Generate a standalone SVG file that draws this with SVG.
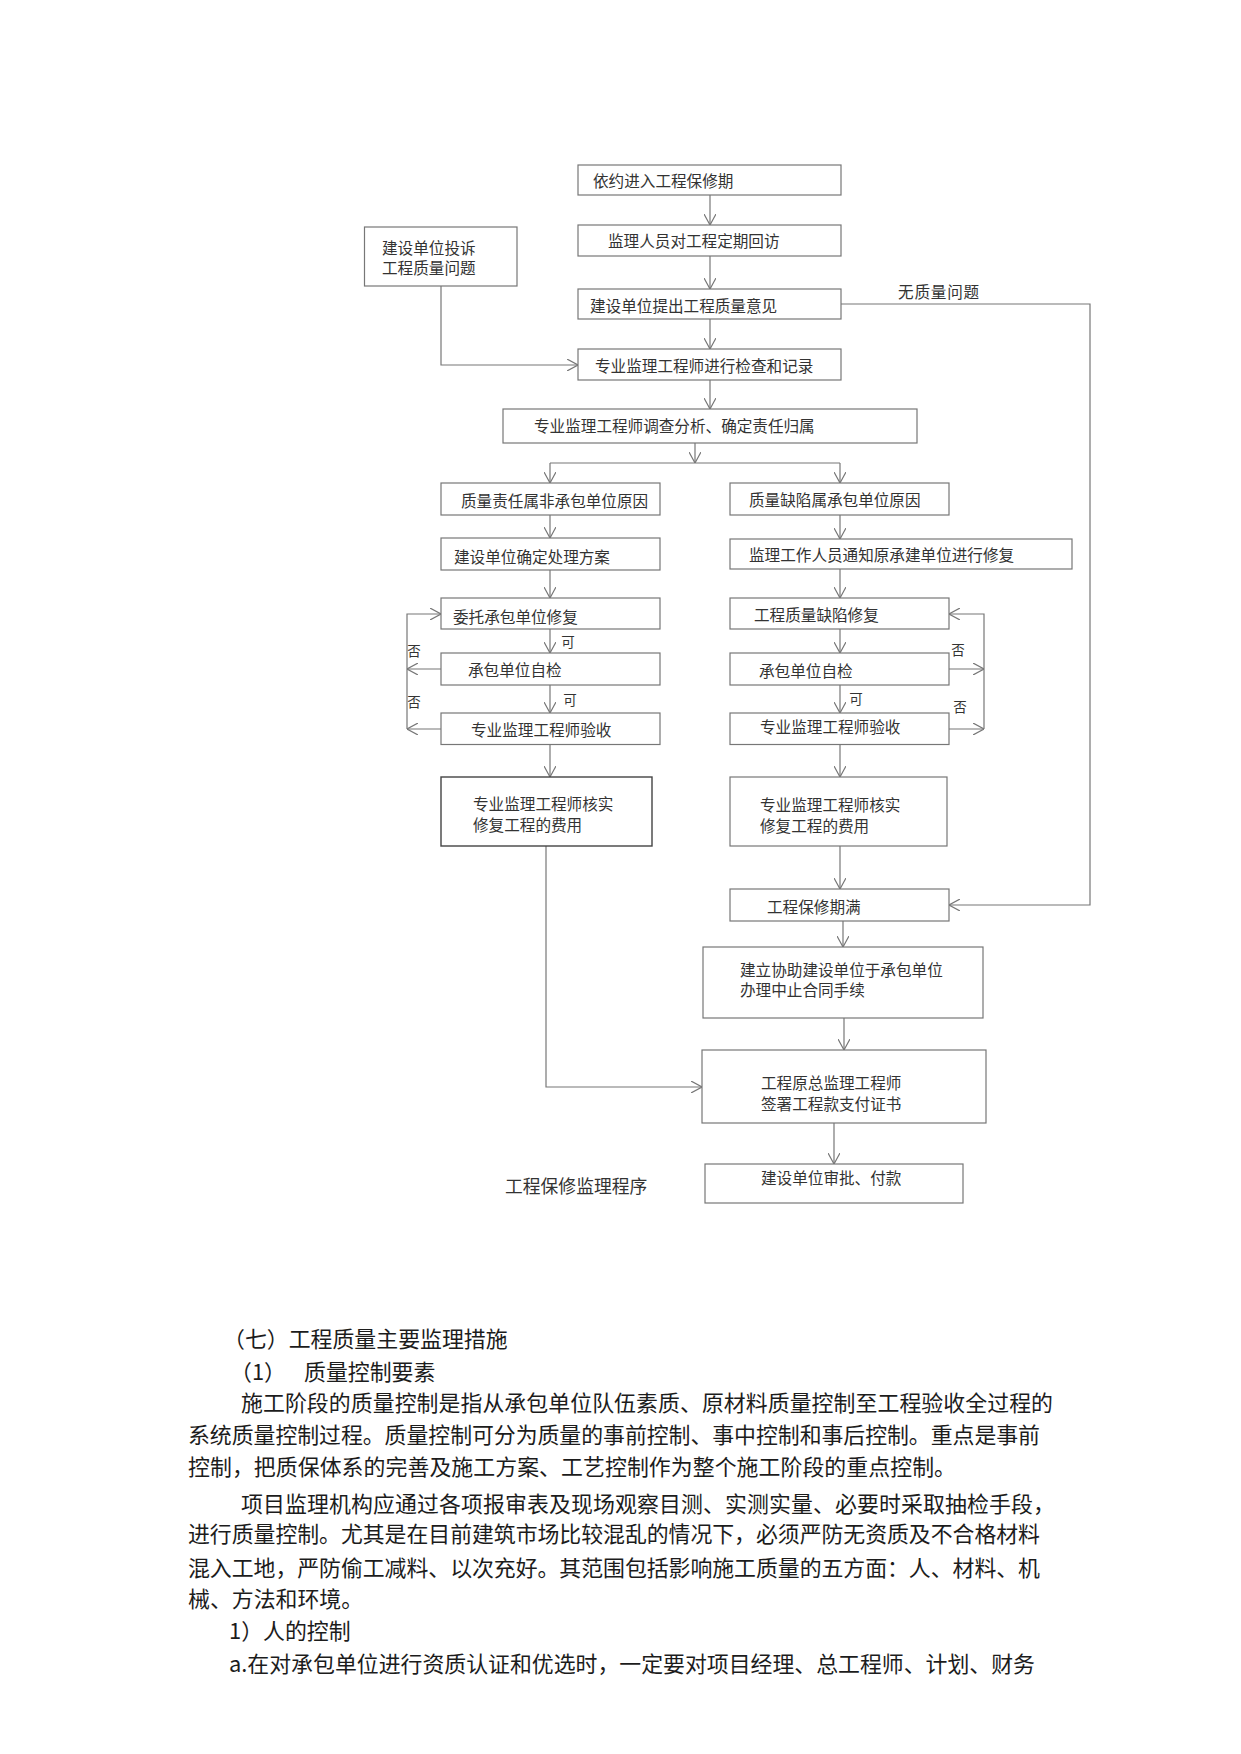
<svg xmlns="http://www.w3.org/2000/svg" width="1241" height="1754" viewBox="0 0 1241 1754">
<style>
.box{fill:#fff;stroke:#777;stroke-width:1.2}
.dark{stroke:#444;stroke-width:1.4}
.t{font-family:"Noto Sans CJK SC","Noto Sans",sans-serif;font-size:15.6px;fill:#333;dominant-baseline:central}
.s{font-family:"Noto Sans CJK SC","Noto Sans",sans-serif;font-size:13.5px;fill:#333;dominant-baseline:central}
.p{font-family:"Noto Sans CJK SC","Liberation Serif",sans-serif;font-size:21.9px;fill:#1c1c1c;dominant-baseline:central}
.c{fill:none;stroke:#777;stroke-width:1.2}
.a{marker-end:url(#arr)}
</style>
<defs>
<marker id="arr" viewBox="0 0 11 12" refX="11" refY="6" markerWidth="11" markerHeight="12" markerUnits="userSpaceOnUse" orient="auto">
<path d="M0,0 L11,6 L0,12" fill="none" stroke="#777" stroke-width="1.2"/>
</marker>
</defs>
<rect width="1241" height="1754" fill="#fff"/>

<g id="connectors">
<path class="c a" d="M710,195 V225"/>
<path class="c a" d="M710,256 V289"/>
<path class="c a" d="M710,319 V349"/>
<path class="c a" d="M710,380 V409"/>
<path class="c a" d="M441,286 V365 H578"/>
<path class="c a" d="M841,304 H1090 V905 H949"/>
<path class="c a" d="M695,443 V463"/>
<path class="c" d="M550,463 H840"/>
<path class="c a" d="M550,463 V483"/>
<path class="c a" d="M840,463 V483"/>
<path class="c a" d="M550,515 V538"/>
<path class="c a" d="M550,570 V598"/>
<path class="c a" d="M550,629 V653"/>
<path class="c a" d="M550,685 V713"/>
<path class="c a" d="M550,745 V777"/>
<path class="c a" d="M441,669 H407"/>
<path class="c a" d="M441,729 H407"/>
<path class="c a" d="M407,729 V614 H441"/>
<path class="c a" d="M546,846 V1087 H702"/>
<path class="c a" d="M840,515 V539"/>
<path class="c a" d="M840,569 V598"/>
<path class="c a" d="M840,629 V653"/>
<path class="c a" d="M840,685 V713"/>
<path class="c a" d="M840,745 V777"/>
<path class="c a" d="M949,669 H984"/>
<path class="c a" d="M949,729 H984"/>
<path class="c a" d="M984,669 V614 H949"/>
<path class="c" d="M984,669 V729"/>
<path class="c a" d="M840,846 V889"/>
<path class="c a" d="M843,921 V947"/>
<path class="c a" d="M844,1018 V1050"/>
<path class="c a" d="M834,1123 V1164"/>
<text class="t" x="898" y="291" style="letter-spacing:0.8px">无质量问题</text>
<text class="s" x="568" y="641" text-anchor="middle">可</text>
<text class="s" x="570" y="699" text-anchor="middle">可</text>
<text class="s" x="414" y="650" text-anchor="middle">否</text>
<text class="s" x="414" y="701" text-anchor="middle">否</text>
<text class="s" x="856" y="698" text-anchor="middle">可</text>
<text class="s" x="958" y="649" text-anchor="middle">否</text>
<text class="s" x="960" y="706" text-anchor="middle">否</text>
</g>

<g id="n1"><rect class="box" x="578" y="165" width="263" height="30"/><text class="t" x="593" y="180">依约进入工程保修期</text></g>
<g id="n2"><rect class="box" x="578" y="225" width="263" height="31"/><text class="t" x="608" y="240">监理人员对工程定期回访</text></g>
<g id="n3"><rect class="box" x="578" y="289" width="263" height="30"/><text class="t" x="590" y="305">建设单位提出工程质量意见</text></g>
<g id="n4"><rect class="box" x="578" y="349" width="263" height="31"/><text class="t" x="595" y="365">专业监理工程师进行检查和记录</text></g>
<g id="n5"><rect class="box" x="503" y="409" width="414" height="34"/><text class="t" x="534" y="425">专业监理工程师调查分析、确定责任归属</text></g>
<g id="complaint"><rect class="box" x="364.5" y="227" width="152.5" height="59"/><text class="t" x="382" y="246.5">建设单位投诉</text><text class="t" x="382" y="266.5">工程质量问题</text></g>

<g id="l1"><rect class="box" x="441" y="483" width="219" height="32"/><text class="t" x="461" y="500">质量责任属非承包单位原因</text></g>
<g id="l2"><rect class="box" x="441" y="538" width="219" height="32"/><text class="t" x="454" y="556">建设单位确定处理方案</text></g>
<g id="l3"><rect class="box" x="441" y="598" width="219" height="31"/><text class="t" x="453" y="616">委托承包单位修复</text></g>
<g id="l4"><rect class="box" x="441" y="653" width="219" height="32"/><text class="t" x="468" y="669">承包单位自检</text></g>
<g id="l5"><rect class="box" x="441" y="713" width="219" height="31.5"/><text class="t" x="471" y="729">专业监理工程师验收</text></g>
<g id="l6"><rect class="box dark" x="441" y="777" width="211" height="69"/><text class="t" x="473" y="803">专业监理工程师核实</text><text class="t" x="473" y="824">修复工程的费用</text></g>

<g id="r1"><rect class="box" x="730" y="483" width="219" height="32"/><text class="t" x="749" y="499">质量缺陷属承包单位原因</text></g>
<g id="r2"><rect class="box" x="730" y="539" width="342" height="30"/><text class="t" x="749" y="554">监理工作人员通知原承建单位进行修复</text></g>
<g id="r3"><rect class="box" x="730" y="598" width="219" height="31"/><text class="t" x="754" y="614">工程质量缺陷修复</text></g>
<g id="r4"><rect class="box" x="730" y="653" width="219" height="32"/><text class="t" x="759" y="670">承包单位自检</text></g>
<g id="r5"><rect class="box" x="730" y="713" width="219" height="31.5"/><text class="t" x="760" y="726">专业监理工程师验收</text></g>
<g id="r6"><rect class="box" x="730" y="777" width="217" height="69"/><text class="t" x="760" y="804">专业监理工程师核实</text><text class="t" x="760" y="825">修复工程的费用</text></g>
<g id="r7"><rect class="box" x="730" y="889" width="219" height="32"/><text class="t" x="767" y="906">工程保修期满</text></g>
<g id="e1"><rect class="box" x="703" y="947" width="280" height="71"/><text class="t" x="740" y="969">建立协助建设单位于承包单位</text><text class="t" x="740" y="989">办理中止合同手续</text></g>
<g id="e2"><rect class="box" x="702" y="1050" width="284" height="73"/><text class="t" x="761" y="1082">工程原总监理工程师</text><text class="t" x="761" y="1103">签署工程款支付证书</text></g>
<g id="e3"><rect class="box" x="705" y="1164" width="258" height="39"/><text class="t" x="761" y="1177">建设单位审批、付款</text></g>
<text class="t" x="505" y="1185" style="font-size:17.8px">工程保修监理程序</text>

<g id="body">
<text class="p" x="223" y="1337">（七）工程质量主要监理措施</text>
<text class="p" x="230" y="1370">（1）</text>
<text class="p" x="304" y="1370">质量控制要素</text>
<text class="p" x="241" y="1401" textLength="812" lengthAdjust="spacing">施工阶段的质量控制是指从承包单位队伍素质、原材料质量控制至工程验收全过程的</text>
<text class="p" x="188" y="1433" textLength="852" lengthAdjust="spacing">系统质量控制过程。质量控制可分为质量的事前控制、事中控制和事后控制。重点是事前</text>
<text class="p" x="188" y="1465" textLength="768" lengthAdjust="spacing">控制，把质保体系的完善及施工方案、工艺控制作为整个施工阶段的重点控制。</text>
<text class="p" x="241" y="1502" textLength="814" lengthAdjust="spacing">项目监理机构应通过各项报审表及现场观察目测、实测实量、必要时采取抽检手段，</text>
<text class="p" x="188" y="1532" textLength="852" lengthAdjust="spacing">进行质量控制。尤其是在目前建筑市场比较混乱的情况下，必须严防无资质及不合格材料</text>
<text class="p" x="188" y="1566" textLength="852" lengthAdjust="spacing">混入工地，严防偷工减料、以次充好。其范围包括影响施工质量的五方面：人、材料、机</text>
<text class="p" x="188" y="1597">械、方法和环境。</text>
<text class="p" x="229" y="1629">1）人的控制</text>
<text class="p" x="229" y="1662" textLength="806" lengthAdjust="spacing">a.在对承包单位进行资质认证和优选时，一定要对项目经理、总工程师、计划、财务</text>
</g>
</svg>
